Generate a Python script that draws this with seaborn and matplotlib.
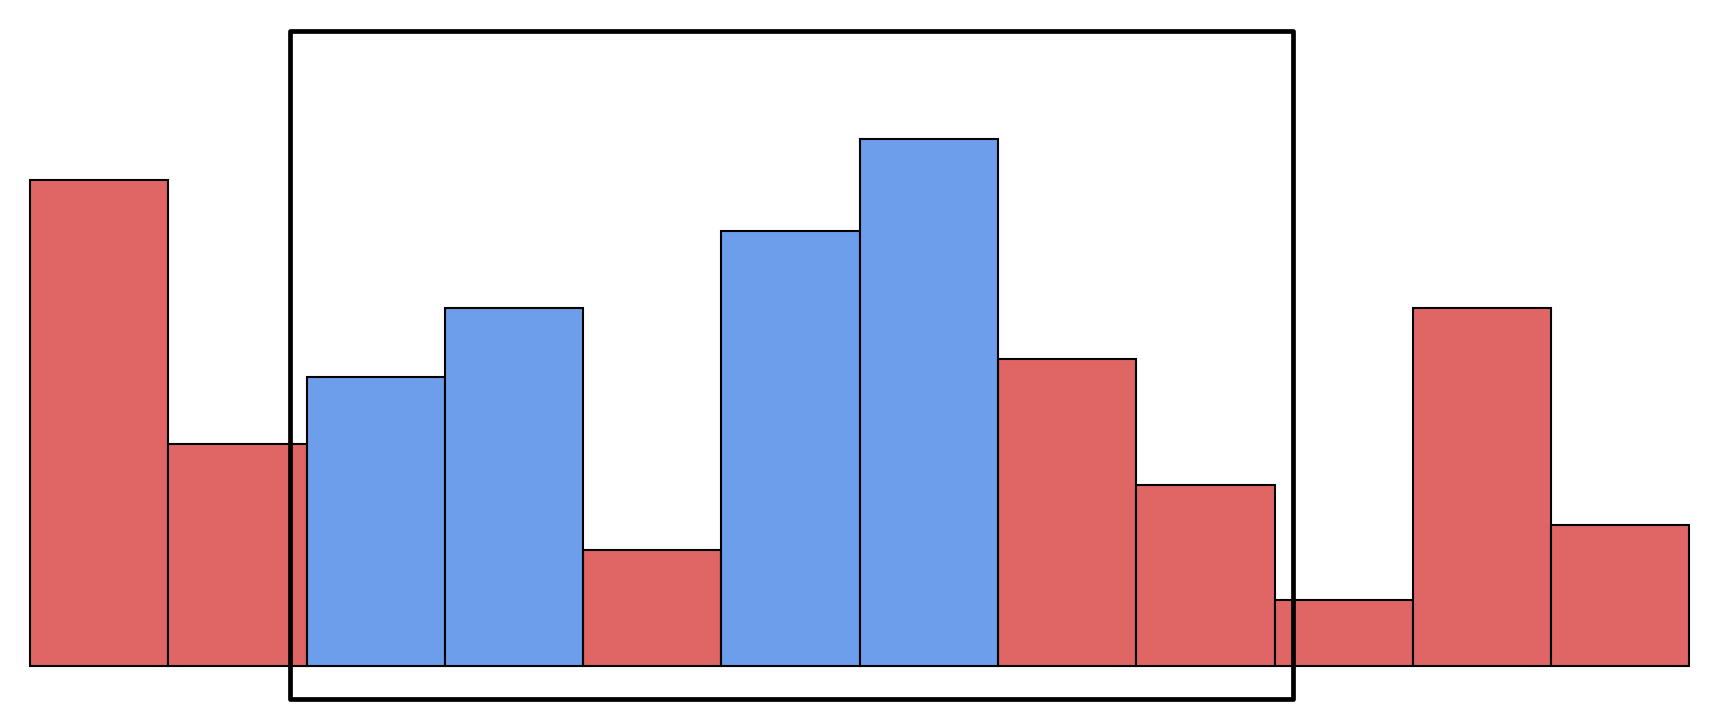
import matplotlib
matplotlib.use("Agg")
import matplotlib.pyplot as plt
import matplotlib.patches as mpatches
import seaborn as sns
import pandas as pd

categories = ["1", "2", "3", "4", "5", "6", "7", "8", "9", "10", "11", "12"]
values = [11.04, 5.04, 6.57, 8.13, 2.63, 9.90, 11.99, 6.99, 4.11, 1.50, 8.13, 3.20]
groups = ["out", "out", "in", "in", "out", "in", "in", "out", "out", "out", "out", "out"]
palette = {"out": "#E06666", "in": "#6D9EEB"}

# highlight frame (data coordinates)
frame_x = (1.38, 8.63)
frame_y = (-0.75, 14.43)

df = pd.DataFrame({"cat": categories, "val": values, "grp": groups})

sns.set_theme(style="white")
fig = plt.figure(figsize=(17.28, 7.19), dpi=100)
ax = fig.add_axes([0, 0, 1, 1])

sns.barplot(data=df, x="cat", y="val", hue="grp", palette=palette, order=categories,
            dodge=False, width=1.0, edgecolor="black", linewidth=1.5,
            legend=False, ax=ax, saturation=1)

rect = mpatches.Rectangle((frame_x[0], frame_y[0]), frame_x[1] - frame_x[0],
                          frame_y[1] - frame_y[0], fill=False, edgecolor="black",
                          linewidth=3.4, joinstyle="round", zorder=10)
ax.add_patch(rect)

ax.set_xlim(-0.717, 11.779)
ax.set_ylim(-1.2, 15.14)
ax.set_axis_off()

fig.savefig("out.png", dpi=100, facecolor="white")
